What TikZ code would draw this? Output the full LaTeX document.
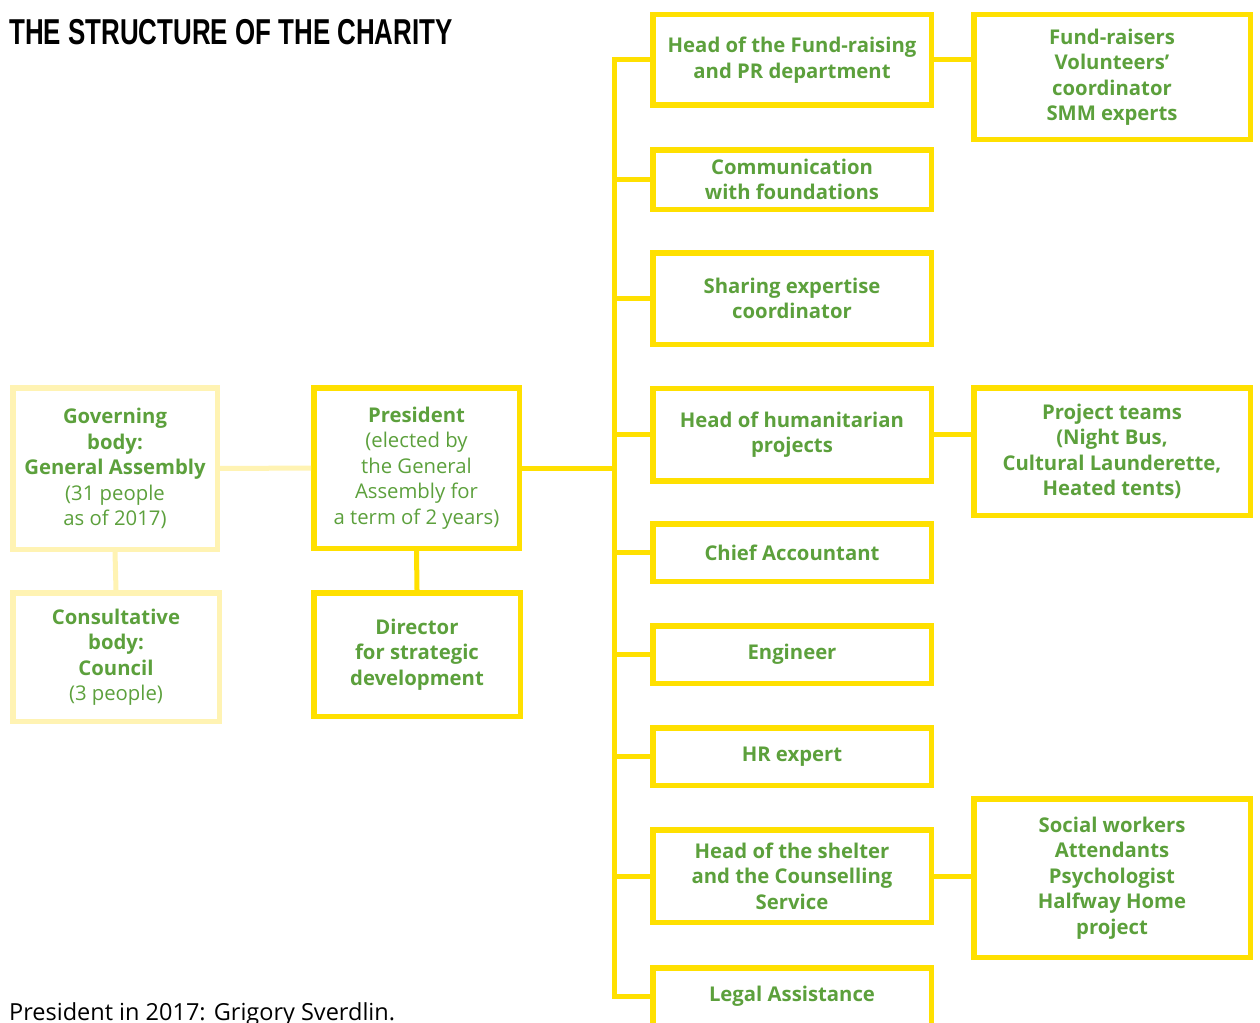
\documentclass[tikz,border=0pt]{standalone}
\usepackage{fontspec}
\setmainfont{Open Sans}
\newfontfamily\titlefont{Liberation Sans}
\definecolor{txtgreen}{HTML}{5CA03C}
\definecolor{gold}{HTML}{FFE000}
\definecolor{pale}{HTML}{FFF3B3}

\begin{document}
\begin{tikzpicture}[x=1pt,y=-1pt]
  \tikzstyle{box}=[draw=gold,line width=5.5pt,text=txtgreen,align=center,inner sep=0pt,
    font=\fontsize{20.3}{25.5}\selectfont\bfseries]
  \tikzstyle{palebox}=[box,draw=pale]
  \tikzstyle{link}=[gold,line width=5pt]
  \useasboundingbox (0,0) rectangle (1260,1022);

  \node[anchor=base west,inner sep=0pt] (title) at (9,45)
    {\titlefont\bfseries\fontsize{36}{36}\selectfont\scalebox{0.72}[1]{THE STRUCTURE OF THE CHARITY}};

  % left part
  \node[palebox,minimum width=204.5pt,minimum height=161.5pt] (GA) at (115,468.5)
    {Governing\\body:\\General Assembly\\\mdseries(31 people\\\mdseries as of 2017)};
  \node[palebox,minimum width=206.5pt,minimum height=128.5pt] (CB) at (116,657)
    {Consultative\\body:\\Council\\\mdseries(3 people)};
  \node[box,minimum width=205.5pt,minimum height=160.5pt] (P) at (416.5,468)
    {President\\\mdseries(elected by\\\mdseries the General\\\mdseries Assembly for\\\mdseries a term of 2 years)};
  \node[box,minimum width=206.5pt,minimum height=123.5pt] (D) at (417,654.5)
    {Director\\for strategic\\development};

  % middle column
  \node[box,minimum width=278.5pt,minimum height=90.5pt] (M_1) at (792,60) {Head of the Fund-raising\\and PR department};
  \node[box,minimum width=278.5pt,minimum height=59.5pt] (M_2) at (792,179.5) {Communication\\with foundations};
  \node[box,minimum width=278.5pt,minimum height=91.5pt] (M_3) at (792,298.5) {Sharing expertise\\coordinator};
  \node[box,minimum width=278.5pt,minimum height=92.5pt] (M_4) at (792,434.5) {Head of humanitarian\\projects};
  \node[box,minimum width=278.5pt,minimum height=57.5pt] (M_5) at (792,552.5) {Chief Accountant};
  \node[box,minimum width=278.5pt,minimum height=57.5pt] (M_6) at (792,654.5) {Engineer};
  \node[box,minimum width=278.5pt,minimum height=57.5pt] (M_7) at (792,756.5) {HR expert};
  \node[box,minimum width=278.5pt,minimum height=92.5pt] (M_8) at (792,876) {Head of the shelter\\and the Counselling\\Service};
  \node[box,minimum width=278.5pt,minimum height=57.5pt] (M_9) at (792,996.5) {Legal Assistance};

  % right column
  \node[box,minimum width=276.5pt,minimum height=124.5pt] (R_1) at (1112,77) {Fund-raisers\\Volunteers’\\coordinator\\SMM experts};
  \node[box,minimum width=276.5pt,minimum height=127.5pt] (R_4) at (1112,451.5) {Project teams\\(Night Bus,\\Cultural Launderette,\\Heated tents)};
  \node[box,minimum width=276.5pt,minimum height=158.5pt] (R_8) at (1112,878) {Social workers\\Attendants\\Psychologist\\Halfway Home\\project};

  \node[anchor=base west,inner sep=0pt] (note) at (9,1020) {\fontsize{23.5}{28}\selectfont President in 2017: Grigory Sverdlin.};

  % spine
  \coordinate (S_0) at (614,468);
  \coordinate (S_1) at (614,60);
  \coordinate (S_2) at (614,179.5);
  \coordinate (S_3) at (614,298.5);
  \coordinate (S_4) at (614,434.5);
  \coordinate (S_5) at (614,552.5);
  \coordinate (S_6) at (614,654.5);
  \coordinate (S_7) at (614,756.5);
  \coordinate (S_8) at (614,876);
  \coordinate (S_9) at (614,996.5);

  \draw[link,pale] (GA) -- (P);
  \draw[link,pale] (GA.south) -- (CB.north);
  \draw[link] (P.south) -- (D.north);
  \draw[link] (P) -- (S_0);
  \draw[link,line cap=rect] (S_1) -- (S_9);
  \draw[link] (S_1) -- (M_1);
  \draw[link] (S_2) -- (M_2);
  \draw[link] (S_3) -- (M_3);
  \draw[link] (S_4) -- (M_4);
  \draw[link] (S_5) -- (M_5);
  \draw[link] (S_6) -- (M_6);
  \draw[link] (S_7) -- (M_7);
  \draw[link] (S_8) -- (M_8);
  \draw[link] (S_9) -- (M_9);

  \draw[link] (M_1.east) -- (M_1.east -| R_1.west);
  \draw[link] (M_4.east) -- (M_4.east -| R_4.west);
  \draw[link] (M_8.east) -- (M_8.east -| R_8.west);
\end{tikzpicture}
\end{document}
